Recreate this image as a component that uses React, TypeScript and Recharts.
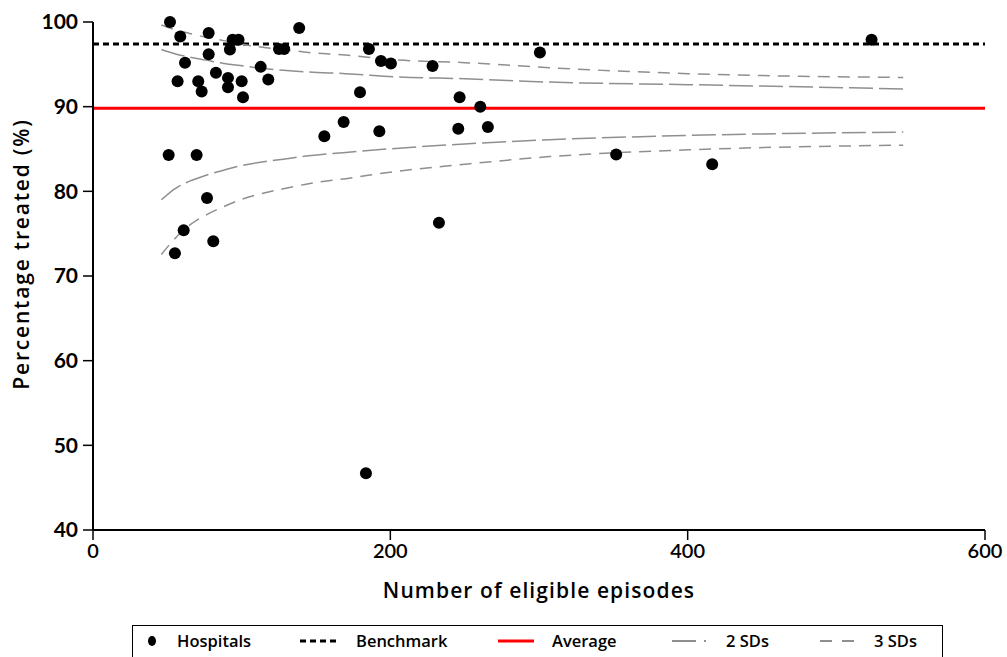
import React from 'react'
import {
  ComposedChart,
  Scatter,
  Line,
  XAxis,
  YAxis,
  ReferenceLine,
} from 'recharts'

// Hospitals: number of eligible episodes vs percentage treated
const hospitalEpisodes = [
  51.8, 58.7, 77.8, 93.9, 97.9, 92.1, 77.8, 61.9, 112.8, 82.7,
  56.9, 70.8, 90.8, 117.9, 100.0, 73.1, 90.8, 100.9, 125.1, 128.6,
  138.7, 50.9, 69.7, 76.7, 61.0, 55.1, 80.9, 185.6, 193.7, 200.4,
  228.4, 300.6, 179.6, 246.6, 260.5, 168.6, 155.6, 192.6, 245.7, 265.6,
  351.9, 416.5, 523.7, 183.6, 232.7,
]
const hospitalPct = [
  100.0, 98.3, 98.7, 97.9, 97.9, 96.75, 96.2, 95.2, 94.7, 94.0,
  93.0, 93.0, 93.4, 93.2, 93.0, 91.8, 92.3, 91.1, 96.8, 96.8,
  99.3, 84.3, 84.3, 79.2, 75.4, 72.7, 74.1, 96.8, 95.4, 95.1,
  94.8, 96.4, 91.7, 91.1, 90.0, 88.2, 86.5, 87.1, 87.4, 87.6,
  84.35, 83.2, 97.9, 46.7, 76.3,
]

const BENCHMARK = 97.4
const AVERAGE = 89.8

// control limits
const limitEpisodes = [46, 55, 65, 76, 88, 99, 115, 128, 145, 170, 206, 250, 307, 400, 545]
const upper3 = [99.65, 99.1, 98.65, 98.2, 97.8, 97.4, 97.0, 96.75, 96.4, 96.1, 95.5, 95.2, 94.6, 93.9, 93.45]
const upper2 = [96.75, 96.25, 95.85, 95.5, 95.1, 94.85, 94.5, 94.3, 94.1, 93.9, 93.5, 93.3, 92.9, 92.6, 92.1]
const lower2 = [79.0, 80.3, 81.2, 81.9, 82.5, 83.0, 83.5, 83.8, 84.2, 84.6, 85.1, 85.6, 86.1, 86.6, 87.0]
const lower3 = [72.55, 74.4, 76.0, 77.2, 78.2, 79.0, 79.8, 80.3, 80.9, 81.5, 82.4, 83.2, 84.1, 84.9, 85.45]

const xTicks = [0, 200, 400, 600]
const yTicks = [40, 50, 60, 70, 80, 90, 100]

const hospitals = hospitalEpisodes.map((x, i) => ({ x, y: hospitalPct[i] }))
const toSeries = (vals: number[]) => limitEpisodes.map((x, i) => ({ x, y: vals[i] }))

const TICK_FONT = 'Lato, "Open Sans", sans-serif'
const FONT = '"Open Sans", Lato, sans-serif'
const GREY = '#8f8f8f'
const DASH2 = '24 6'
const DASH3 = '12 8'

function LegendItem({ sample, label, width }: { sample: React.ReactNode; label: string; width: number }) {
  return (
    <div style={{ display: 'flex', alignItems: 'center', width }}>
      {sample}
      <span style={{ marginLeft: 18 }}>{label}</span>
    </div>
  )
}

export default function App() {
  return (
    <div style={{ position: 'absolute', left: 0, top: 0, width: 1007, height: 657, background: '#fff', overflow: 'hidden', fontFamily: FONT }}>
      <ComposedChart
        width={1007}
        height={620}
        margin={{ top: 22, right: 22, bottom: 30, left: 33 }}
      >
        <XAxis
          type="number"
          dataKey="x"
          domain={[0, 600]}
          ticks={xTicks}
          axisLine={{ stroke: '#000', strokeWidth: 2 }}
          tickLine={{ stroke: '#000', strokeWidth: 1.5 }}
          tickSize={10}
          tickMargin={4}
          tick={{ fill: '#000', fontSize: 20, fontFamily: TICK_FONT, fontWeight: 600 }}
          height={60}
        />
        <YAxis
          type="number"
          dataKey="y"
          domain={[40, 100]}
          ticks={yTicks}
          axisLine={{ stroke: '#000', strokeWidth: 2 }}
          tickLine={{ stroke: '#000', strokeWidth: 1.5 }}
          tickSize={10}
          tickMargin={5}
          tick={{ fill: '#000', fontSize: 21, fontFamily: TICK_FONT, fontWeight: 700 }}
          width={60}
        />
        <ReferenceLine y={AVERAGE} stroke="#ff0000" strokeWidth={3} />
        <ReferenceLine y={BENCHMARK} stroke="#000" strokeWidth={3} strokeDasharray="6 4" />
        <Line data={toSeries(upper3)} dataKey="y" stroke={GREY} strokeWidth={1.5} strokeDasharray={DASH3} dot={false} type="monotone" isAnimationActive={false} />
        <Line data={toSeries(upper2)} dataKey="y" stroke={GREY} strokeWidth={1.5} strokeDasharray={DASH2} dot={false} type="monotone" isAnimationActive={false} />
        <Line data={toSeries(lower2)} dataKey="y" stroke={GREY} strokeWidth={1.5} strokeDasharray={DASH2} dot={false} type="monotone" isAnimationActive={false} />
        <Line data={toSeries(lower3)} dataKey="y" stroke={GREY} strokeWidth={1.5} strokeDasharray={DASH3} dot={false} type="monotone" isAnimationActive={false} />
        <Scatter data={hospitals} fill="#000" shape={(p: any) => <circle cx={p.cx} cy={p.cy} r={6} fill="#000" />} isAnimationActive={false} />
      </ComposedChart>

      {/* axis titles */}
      <div style={{ position: 'absolute', left: 0, width: 1078, top: 576, textAlign: 'center', fontSize: 21, fontWeight: 600, letterSpacing: 1.1 }}>
        Number of eligible episodes
      </div>
      <div
        style={{
          position: 'absolute',
          left: 21,
          top: 254,
          transform: 'translate(-50%, -50%) rotate(-90deg)',
          whiteSpace: 'nowrap',
          fontSize: 21,
          fontWeight: 600,
          letterSpacing: 1.8,
        }}
      >
        Percentage treated (%)
      </div>

      {/* legend */}
      <div
        style={{
          position: 'absolute',
          left: 132,
          top: 625,
          width: 811,
          height: 40,
          border: '1.5px solid #000',
          display: 'flex',
          alignItems: 'flex-start',
          paddingTop: 3,
          paddingLeft: 12,
          boxSizing: 'border-box',
          fontSize: 16.5,
          fontWeight: 600,
        }}
      >
        <LegendItem
          width={155}
          label="Hospitals"
          sample={<svg width={14} height={12}><ellipse cx={7} cy={6} rx={4} ry={5} fill="#000" /></svg>}
        />
        <LegendItem
          width={198}
          label="Benchmark"
          sample={<svg width={38} height={6}><line x1={0} y1={3} x2={38} y2={3} stroke="#000" strokeWidth={3} strokeDasharray="6 4" /></svg>}
        />
        <LegendItem
          width={174}
          label="Average"
          sample={<svg width={36} height={6}><line x1={0} y1={3} x2={36} y2={3} stroke="#ff0000" strokeWidth={3} /></svg>}
        />
        <LegendItem
          width={148}
          label="2 SDs"
          sample={<svg width={36} height={6}><line x1={0} y1={3} x2={36} y2={3} stroke={GREY} strokeWidth={2} strokeDasharray="24 8 2 8" /></svg>}
        />
        <LegendItem
          width={110}
          label="3 SDs"
          sample={<svg width={36} height={6}><line x1={0} y1={3} x2={36} y2={3} stroke={GREY} strokeWidth={2} strokeDasharray="12 10" /></svg>}
        />
      </div>
    </div>
  )
}
